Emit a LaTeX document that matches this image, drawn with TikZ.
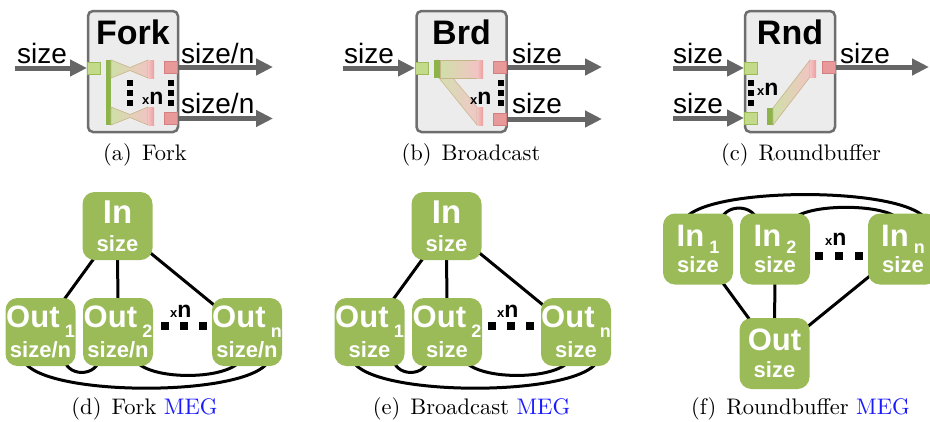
\documentclass[tikz,border=0pt]{standalone}
\usepackage{fontspec}
\newfontfamily\lsans{Liberation Sans}
\newfontfamily\capfont{lmroman10-regular.otf}
\usetikzlibrary{arrows.meta,backgrounds}
\definecolor{boxfill}{HTML}{ECECEC}
\definecolor{boxdraw}{HTML}{6E6E6E}
\definecolor{arrgray}{HTML}{666666}
\definecolor{gfill}{HTML}{C3DA8B}
\definecolor{gdraw}{HTML}{9BBB59}
\definecolor{rfill}{HTML}{E8999A}
\definecolor{rdraw}{HTML}{D47F80}
\definecolor{megg}{HTML}{9BBB59}
\definecolor{gbar}{HTML}{8DB44A}
\definecolor{lgreen}{HTML}{CFE0A8}
\definecolor{lpink}{HTML}{F2C4C4}
\definecolor{pbar}{HTML}{EE9E9E}
\definecolor{olivedraw}{HTML}{C8B48A}
\definecolor{megblue}{HTML}{1A1AFF}
\newcommand{\msub}[2]{\,\raisebox{-#1}{\fontsize{18}{18}\selectfont #2}}
\newcommand{\sm}{\fontsize{22}{22}\selectfont}
\newcommand{\xnt}{{\fontsize{13}{13}\selectfont x}{\fontsize{23}{23}\selectfont n}}
\begin{document}
\begin{tikzpicture}[x=1pt,y=-1pt,
  blk/.style={draw=boxdraw, line width=2.5pt, fill=boxfill, rounded corners=5pt, minimum width=90pt, minimum height=121pt, inner sep=0},
  gport/.style={draw=gdraw, line width=1pt, fill=gfill, minimum width=13pt, minimum height=12pt, inner sep=0},
  rport/.style={draw=rdraw, line width=1pt, fill=rfill, minimum width=13pt, minimum height=12pt, inner sep=0},
  arr/.style={draw=arrgray, line width=5pt, -{Triangle[length=17pt,width=16pt]}},
  lbl/.style={inner sep=0, anchor=base west, font=\lsans\fontsize{28}{28}\selectfont},
  ttl/.style={inner sep=0, anchor=base, font=\lsans\bfseries\fontsize{34}{34}\selectfont},
  captxt/.style={inner sep=0, anchor=base, font=\capfont\fontsize{22.5}{23}\selectfont},
  meg/.style={fill=megg, rounded corners=12pt, minimum width=70pt, minimum height=68pt, inner sep=0, text=white, align=center},
  megA/.style={meg, font=\lsans\bfseries\fontsize{33}{28}\selectfont},
  megB/.style={meg, font=\lsans\bfseries\fontsize{31}{30}\selectfont},
  megC/.style={meg, minimum height=71pt, font=\lsans\bfseries\fontsize{31}{26.5}\selectfont},
  megline/.style={draw=black, line width=3pt},
  sdot/.style={fill=black, minimum width=6pt, minimum height=6pt, inner sep=0},
  bdot/.style={fill=black, minimum size=8pt, inner sep=0},
  xn/.style={inner sep=0, anchor=base west, font=\lsans\bfseries},
  fun/.style={left color=lgreen, right color=lpink, draw=olivedraw, line width=0.6pt},
  pb/.style={left color=lpink, right color=pbar},
]
\useasboundingbox (0,0) rectangle (930,421);

% ---------------- (a) Fork
\node[blk] (abox) at (133,71.5) {};
\node[ttl] (atitle) at (133,44) {Fork};
\node[gport] (ain) at (94,68) {};
\node[rport] (ao1) at (171,67) {};
\node[rport] (ao2) at (171,118.5) {};
\coordinate (asrc) at (15,68);
\coordinate (adst1) at (273,67);
\coordinate (adst2) at (273,118.5);
\draw[arr] (asrc) -- (ain.west);
\draw[arr] (ao1.east) -- (adst1);
\draw[arr] (ao2.east) -- (adst2);
\node[lbl] (al0) at (17,63) {size};
\node[lbl] (al1) at (181,63) {size/n};
\node[lbl] (al2) at (181,113) {size/n};
\fill[gbar] (106,60) rectangle (111,125);
\shade[fun] (111,60) -- (130,67.5) -- (148,60) -- (148,78) -- (130,70.5) -- (111,78) -- cycle;
\shade[pb] (148,60) rectangle (154,78);
\shade[fun] (111,107) -- (130,114.5) -- (148,107) -- (148,125) -- (130,117.5) -- (111,125) -- cycle;
\shade[pb] (148,107) rectangle (154,125);
\node[sdot] (ad1) at (130,82.5) {};
\node[sdot] (ad2) at (130,92.5) {};
\node[sdot] (ad3) at (130,102.5) {};
\node[sdot] (ad4) at (170.5,82.5) {};
\node[sdot] (ad5) at (170.5,92.5) {};
\node[sdot] (ad6) at (170.5,102.5) {};
\node[xn] (axn) at (142,104) {\xnt};
\node[captxt] (acap) at (145,160) {(a)\hspace{0.45em}Fork};

% ---------------- (b) Broadcast
\node[blk] (bbox) at (461.5,71.5) {};
\node[ttl] (btitle) at (461.5,44) {Brd};
\node[gport] (bin) at (422,68) {};
\node[rport] (bo1) at (500,67) {};
\node[rport] (bo2) at (500,119) {};
\coordinate (bsrc) at (343,68);
\coordinate (bdst1) at (602,67);
\coordinate (bdst2) at (602,119);
\draw[arr] (bsrc) -- (bin.west);
\draw[arr] (bo1.east) -- (bdst1);
\draw[arr] (bo2.east) -- (bdst2);
\node[lbl] (bl0) at (344,63) {size};
\node[lbl] (bl1) at (512,63) {size};
\node[lbl] (bl2) at (512,113) {size};
\shade[fun, opacity=0.9] (438,60) -- (477,107) -- (477,125) -- (439,78) -- cycle;
\shade[fun] (440,60) rectangle (477,78);
\fill[gbar] (434,60) rectangle (440,78);
\shade[pb] (477,60) rectangle (483,78);
\shade[pb] (477,107) rectangle (483,125);
\node[sdot] (bd1) at (501,82.5) {};
\node[sdot] (bd2) at (501,92.5) {};
\node[sdot] (bd3) at (501,102.5) {};
\node[xn] (bxn) at (470,104) {\xnt};
\node[captxt] (bcap) at (471,160) {(b)\hspace{0.45em}Broadcast};

% ---------------- (c) Roundbuffer
\node[blk] (cbox) at (790,71.5) {};
\node[ttl] (ctitle) at (790,44) {Rnd};
\node[gport] (cin1) at (751,68) {};
\node[gport] (cin2) at (751,118) {};
\node[rport] (cout) at (829,67) {};
\coordinate (csrc1) at (673,68);
\coordinate (csrc2) at (673,118);
\coordinate (cdst) at (929,67);
\draw[arr] (csrc1) -- (cin1.west);
\draw[arr] (csrc2) -- (cin2.west);
\draw[arr] (cout.east) -- (cdst);
\node[lbl] (cl1) at (673,63) {size};
\node[lbl] (cl2) at (673,113) {size};
\node[lbl] (cl3) at (840,63) {size};
\fill[gbar] (767,108) rectangle (773,125);
\shade[fun] (773,108) -- (810,60) -- (810,77) -- (773,125) -- cycle;
\shade[pb] (810,60) rectangle (816,77);
\node[sdot] (cd1) at (751,82.5) {};
\node[sdot] (cd2) at (751,92.5) {};
\node[sdot] (cd3) at (751,102.5) {};
\node[xn] (cxn) at (757,95) {\xnt};
\node[captxt] (ccap) at (801,160) {(c)\hspace{0.45em}Roundbuffer};

% ---------------- (d) Fork MEG
\node[megA] (din) at (117.5,226) {In\\\sm size};
\node[megB] (dout1) at (40.5,332) {Out\msub{10pt}{1}\\\sm size/n};
\node[megB] (dout2) at (118,332) {Out\msub{10pt}{2}\\\sm size/n};
\node[megB] (doutn) at (247,332) {Out\msub{10pt}{n}\\\sm size/n};
\node[bdot] (dd1) at (165,326) {};
\node[bdot] (dd2) at (184,326) {};
\node[bdot] (dd3) at (203,326) {};
\node[xn] (dxn) at (170,317) {\xnt};
\node[captxt] (dcap) at (144.5,414) {(d)\hspace{0.45em}Fork \textcolor{megblue}{MEG}};

% ---------------- (e) Broadcast MEG
\node[megA] (ein) at (446.5,226) {In\\\sm size};
\node[megB] (eout1) at (369.5,332) {Out\msub{10pt}{1}\\\sm size};
\node[megB] (eout2) at (447,332) {Out\msub{10pt}{2}\\\sm size};
\node[megB] (eoutn) at (576,332) {Out\msub{10pt}{n}\\\sm size};
\node[bdot] (ed1) at (492,326) {};
\node[bdot] (ed2) at (511,326) {};
\node[bdot] (ed3) at (530,326) {};
\node[xn] (exn) at (497,317) {\xnt};
\node[captxt] (ecap) at (471.5,414) {(e)\hspace{0.45em}Broadcast \textcolor{megblue}{MEG}};

% ---------------- (f) Roundbuffer MEG
\node[megC] (fin1) at (698,249) {In\msub{7pt}{1}\\\sm size};
\node[megC] (fin2) at (775,249) {In\msub{7pt}{2}\\\sm size};
\node[megC] (finn) at (903,249) {In\msub{7pt}{n}\\\sm size};
\node[megC] (fout) at (774.5,353.5) {Out\\\sm size};
\node[bdot] (fd1) at (819,256) {};
\node[bdot] (fd2) at (839,256) {};
\node[bdot] (fd3) at (859,256) {};
\node[xn] (fxn) at (825,245) {\xnt};
\node[captxt] (fcap) at (800.5,414) {(f)\hspace{0.45em}Roundbuffer \textcolor{megblue}{MEG}};

\begin{pgfonlayer}{background}
\draw[megline] (din.center) -- (dout1.center);
\draw[megline] (din.center) -- (dout2.center);
\draw[megline] (din.center) -- (doutn.center);
\draw[megline] ([xshift=-12pt,yshift=11pt]dout1.south east) .. controls +(0pt,-23pt) and +(0pt,-23pt) .. ([xshift=17pt,yshift=11pt]dout2.south west);
\draw[megline] ([xshift=-20pt,yshift=11pt]dout2.south east) .. controls +(4pt,-27pt) and +(-4pt,-27pt) .. ([xshift=31pt,yshift=11pt]doutn.south west);
\draw[megline] ([xshift=17pt,yshift=11pt]dout1.south west) .. controls +(0pt,-44pt) and +(0pt,-44pt) .. ([xshift=-12pt,yshift=11pt]doutn.south east);
\draw[megline] (ein.center) -- (eout1.center);
\draw[megline] (ein.center) -- (eout2.center);
\draw[megline] (ein.center) -- (eoutn.center);
\draw[megline] ([xshift=-12pt,yshift=11pt]eout1.south east) .. controls +(0pt,-23pt) and +(0pt,-23pt) .. ([xshift=17pt,yshift=11pt]eout2.south west);
\draw[megline] ([xshift=-20pt,yshift=11pt]eout2.south east) .. controls +(4pt,-27pt) and +(-4pt,-27pt) .. ([xshift=31pt,yshift=11pt]eoutn.south west);
\draw[megline] ([xshift=17pt,yshift=11pt]eout1.south west) .. controls +(0pt,-44pt) and +(0pt,-44pt) .. ([xshift=-12pt,yshift=11pt]eoutn.south east);
\draw[megline] (fin1.center) -- (fout.center);
\draw[megline] (fin2.center) -- (fout.center);
\draw[megline] (finn.center) -- (fout.center);
\draw[megline] ([xshift=-13pt,yshift=-12pt]fin1.north east) .. controls +(0pt,23pt) and +(0pt,23pt) .. ([xshift=18pt,yshift=-12pt]fin2.north west);
\draw[megline] ([xshift=-20pt,yshift=-12pt]fin2.north east) .. controls +(0pt,24pt) and +(0pt,24pt) .. ([xshift=34pt,yshift=-12pt]finn.north west);
\draw[megline] ([xshift=20pt,yshift=-12pt]fin1.north west) .. controls +(0pt,41pt) and +(0pt,41pt) .. ([xshift=60pt,yshift=-12pt]finn.north west);
\end{pgfonlayer}
\end{tikzpicture}
\end{document}
